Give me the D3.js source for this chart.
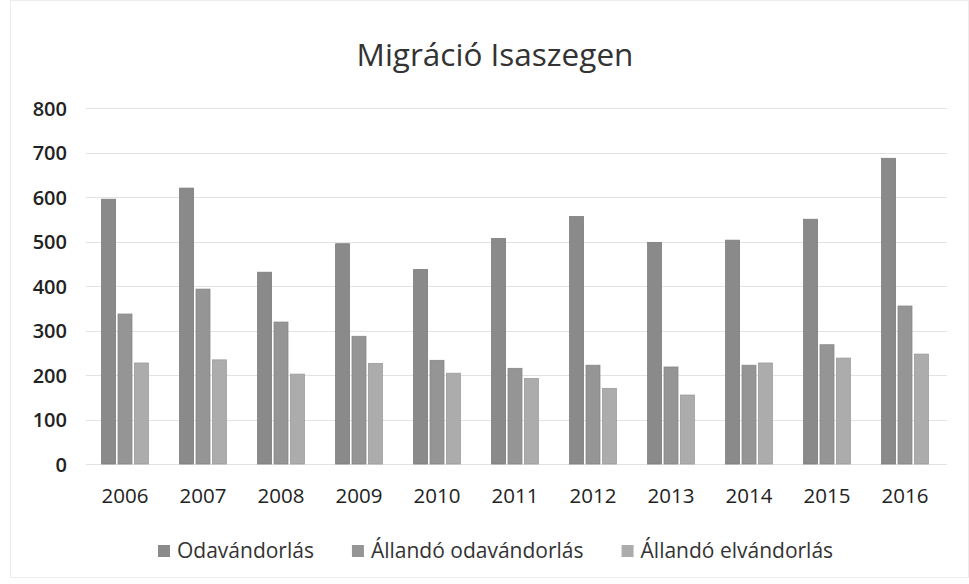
<!DOCTYPE html>
<html>
<head>
<meta charset="utf-8">
<script src="https://cdn.jsdelivr.net/npm/d3@7"></script>
<style>
  html, body { margin: 0; padding: 0; background: #fff; }
  svg { display: block; font-family: "Open Sans", sans-serif; }
</style>
</head>
<body>
<svg id="chart" width="969" height="584"></svg>
<script>
const title = "Migráció Isaszegen";
const years = ["2006","2007","2008","2009","2010","2011","2012","2013","2014","2015","2016"];
const seriesNames = ["Odavándorlás", "Állandó odavándorlás", "Állandó elvándorlás"];
const odavandorlas = [595, 620, 431, 495, 437, 507, 556, 498, 503, 550, 687];
const allandoOdavandorlas = [337, 393, 319, 287, 233, 215, 222, 218, 222, 268, 355];
const allandoElvandorlas = [227, 234, 202, 226, 204, 192, 170, 155, 227, 238, 247];
const yTicks = [0, 100, 200, 300, 400, 500, 600, 700, 800];
const colors = ["#8a8a8a", "#959595", "#acacac"];

const seriesValues = [odavandorlas, allandoOdavandorlas, allandoElvandorlas];
const data = years.map((yr, i) => ({ year: yr, values: seriesNames.map((s, k) => ({ key: s, k, value: seriesValues[k][i] })) }));

const svg = d3.select("#chart");

// faint outer frame of the scanned chart
svg.append("rect").attr("x", 10.5).attr("y", 0.5).attr("width", 958).attr("height", 577)
  .attr("fill", "none").attr("stroke", "#ececec");

const x0 = d3.scaleBand().domain(years).range([86, 944]).paddingInner(0.4).paddingOuter(0.2);
const x1 = d3.scaleBand().domain(seriesNames).range([0, x0.bandwidth()]).paddingInner(0.15);
const y = d3.scaleLinear().domain([0, 800]).range([464, 108]);

// gridlines
svg.append("g").selectAll("line").data(yTicks).join("line")
  .attr("x1", 86).attr("x2", 947)
  .attr("y1", d => Math.round(y(d)) + 0.5).attr("y2", d => Math.round(y(d)) + 0.5)
  .attr("stroke", "#e2e2e2").attr("stroke-width", 1);

// y axis labels
const yAxis = d3.axisLeft(y).tickValues(yTicks).tickSize(0).tickPadding(0).tickFormat(d3.format("d"));
const gy = svg.append("g").attr("transform", "translate(67,1)").call(yAxis);
gy.select(".domain").remove();
gy.selectAll("text").attr("font-size", 20).attr("fill", "#222").attr("font-family", "Open Sans, sans-serif").attr("font-weight", 600);

// bars
const groups = svg.append("g").selectAll("g").data(data).join("g")
  .attr("transform", d => `translate(${x0(d.year)},0)`);
groups.selectAll("rect").data(d => d.values).join("rect")
  .attr("x", d => x1(d.key))
  .attr("y", d => y(d.value))
  .attr("width", x1.bandwidth())
  .attr("height", d => y(0) - y(d.value))
  .attr("fill", d => colors[d.k])
  .attr("stroke", d => d3.color(colors[d.k]).darker(0.3))
  .attr("stroke-width", 0.8);

// x axis labels
const xAxis = d3.axisBottom(x0).tickSize(0).tickPadding(0);
const gx = svg.append("g").attr("transform", "translate(0,503)").call(xAxis);
gx.select(".domain").remove();
gx.selectAll("text").attr("font-size", 20.5).attr("fill", "#222").attr("dy", 0).attr("y", 0).attr("font-family", "Open Sans, sans-serif");

// title
svg.append("text").attr("x", 495).attr("y", 66).attr("text-anchor", "middle")
  .attr("font-size", 31.5).attr("fill", "#333").text(title);

// legend
const legend = svg.append("g");
let lx = 158;
seriesNames.forEach((name, k) => {
  legend.append("rect").attr("x", lx).attr("y", 545).attr("width", 12).attr("height", 12).attr("fill", colors[k]);
  const t = legend.append("text").attr("x", lx + 19).attr("y", 558).attr("font-size", 21).attr("fill", "#333").text(name);
  lx += 19 + t.node().getComputedTextLength() + 38;
});
</script>
</body>
</html>
